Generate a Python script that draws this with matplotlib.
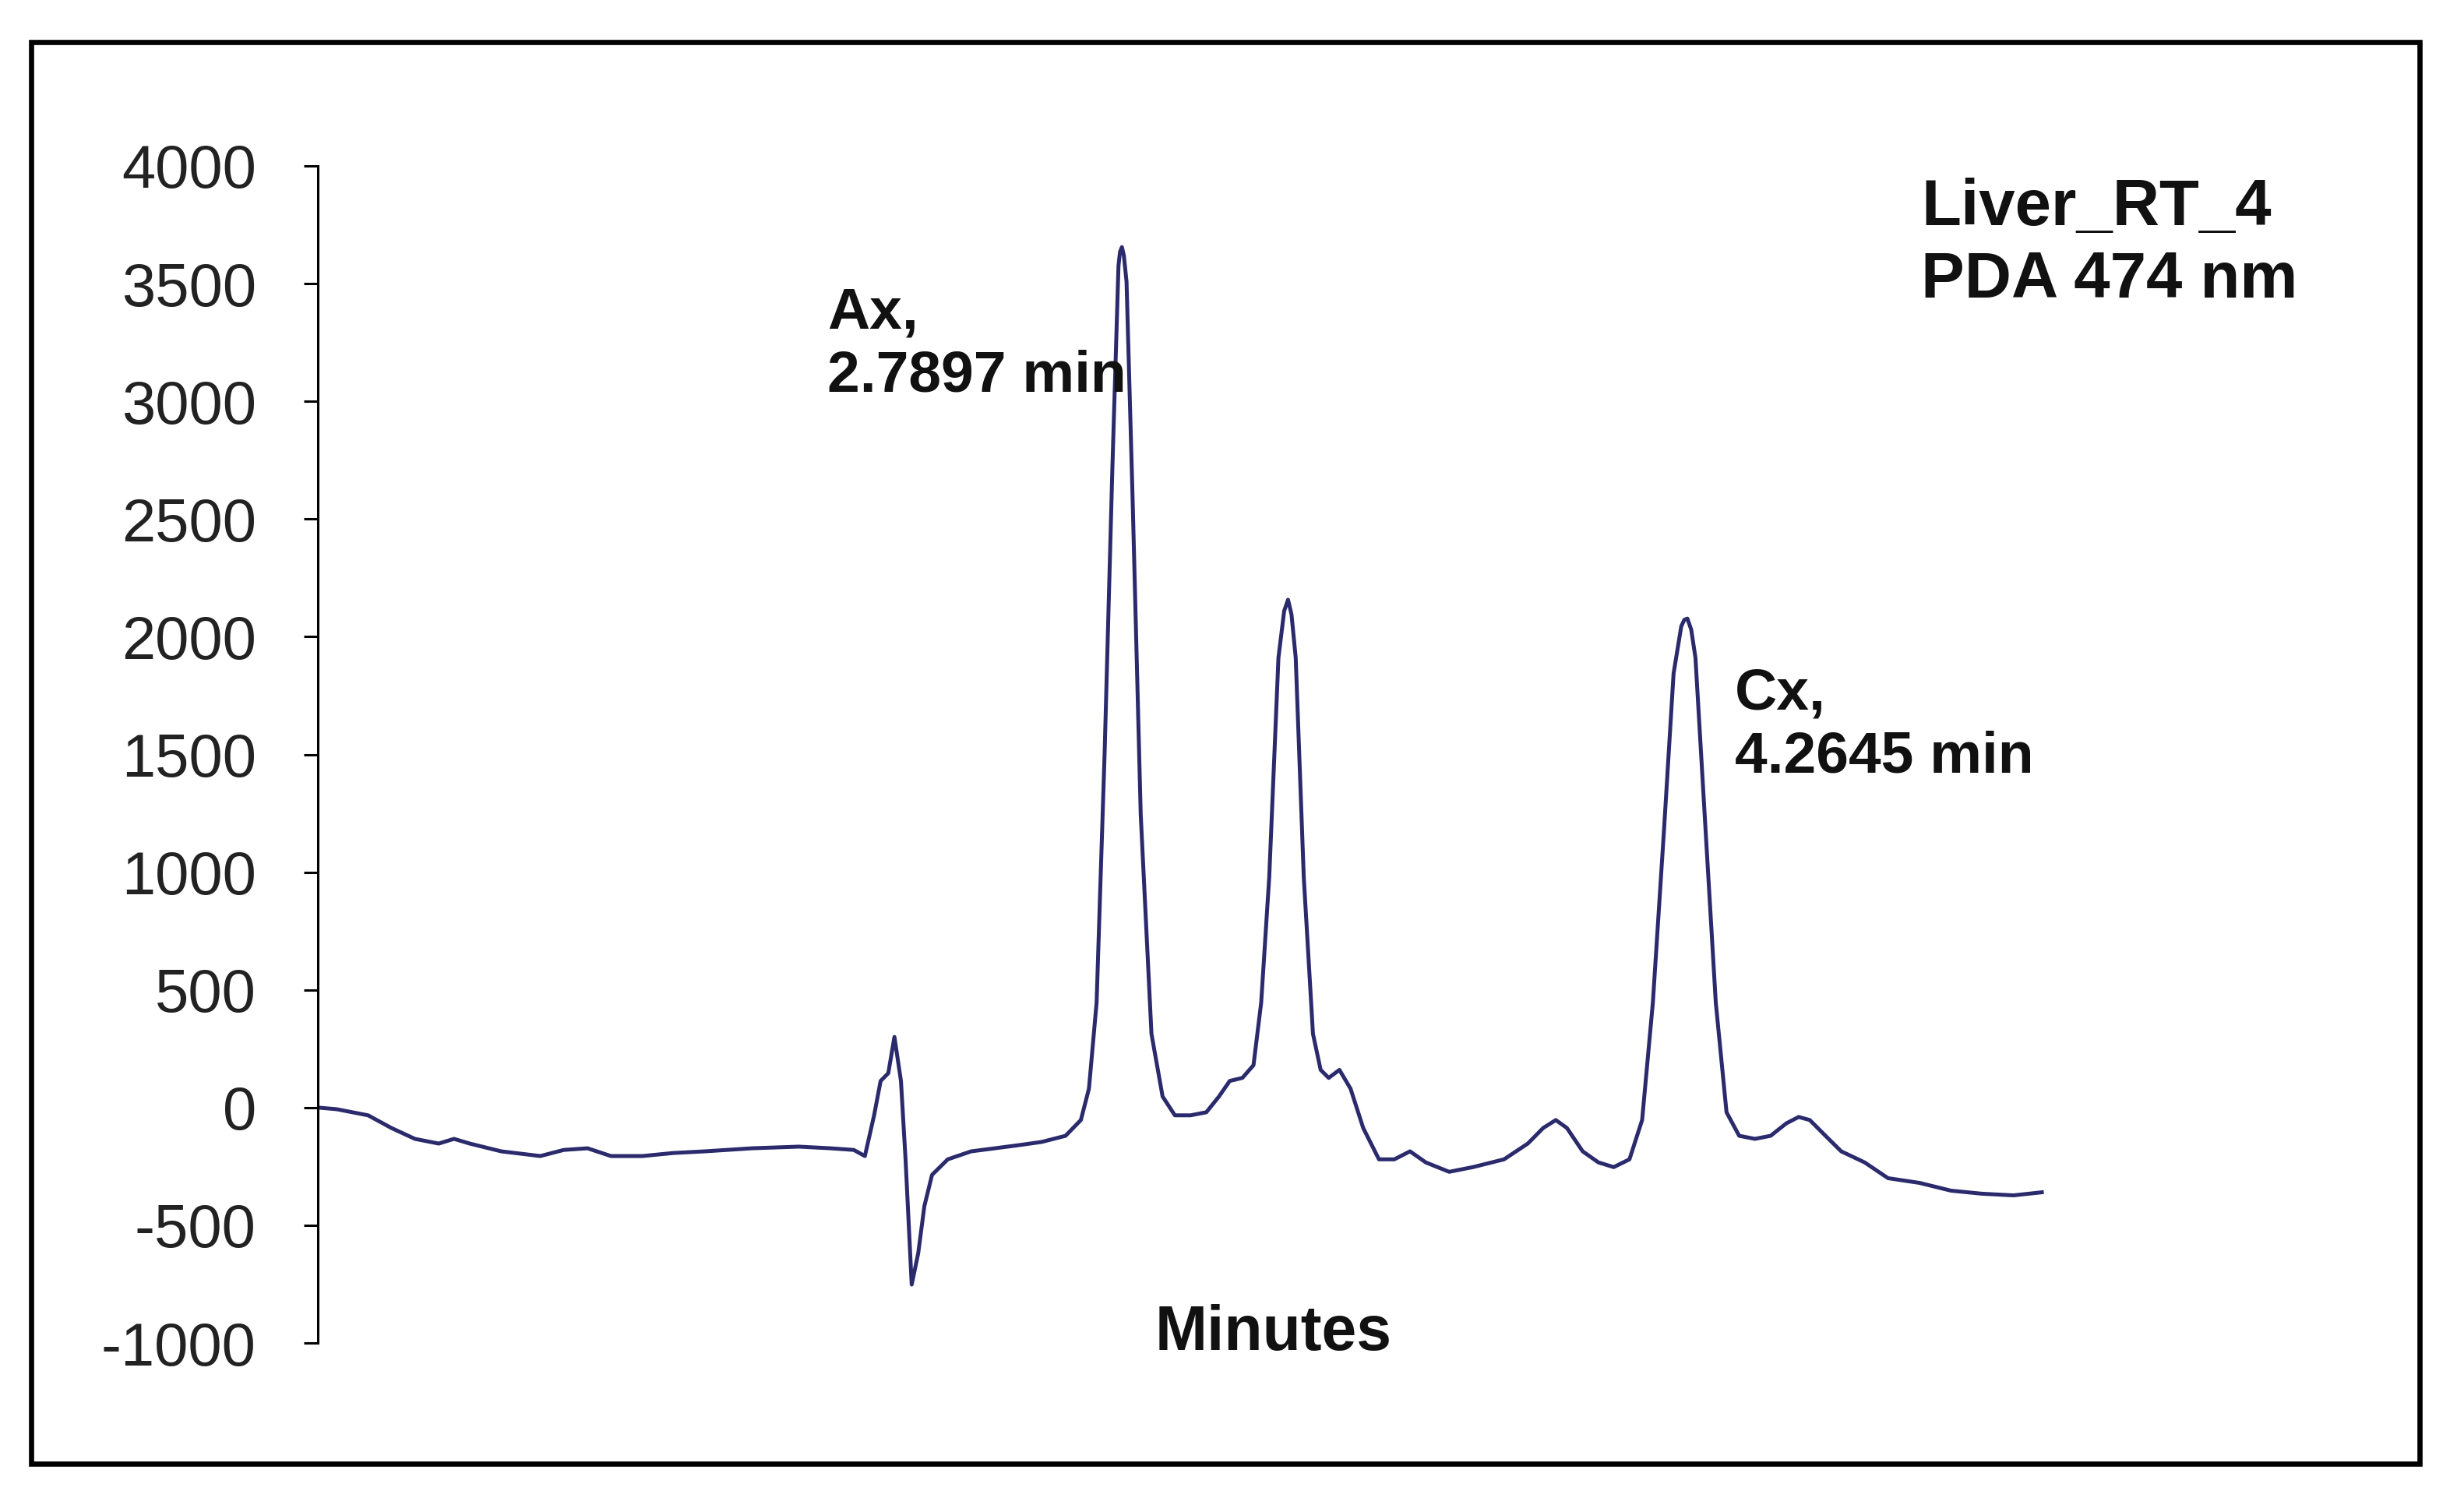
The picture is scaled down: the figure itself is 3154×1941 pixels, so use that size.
import matplotlib
matplotlib.use("Agg")
import matplotlib.pyplot as plt
from matplotlib.patches import Rectangle

plt.rcParams['font.family'] = ['Liberation Sans', 'DejaVu Sans']
plt.rcParams['axes.unicode_minus'] = False

# Retention time (minutes)
time_min = [0.694, 0.743, 0.825, 0.886, 0.947, 1.009, 1.049, 1.090, 1.172, 1.274,
            1.335, 1.397, 1.458, 1.540, 1.621, 1.703, 1.826, 1.948, 2.030, 2.091,
            2.120, 2.144, 2.161, 2.181, 2.197, 2.214, 2.226, 2.242, 2.259, 2.275,
            2.295, 2.336, 2.397, 2.459, 2.520, 2.581, 2.643, 2.683, 2.704, 2.724,
            2.745, 2.765, 2.781, 2.785, 2.790, 2.795, 2.802, 2.818, 2.839, 2.867,
            2.896, 2.928, 2.969, 3.010, 3.043, 3.071, 3.104, 3.133, 3.153, 3.174,
            3.198, 3.213, 3.223, 3.232, 3.243, 3.264, 3.288, 3.308, 3.329, 3.357,
            3.386, 3.419, 3.460, 3.500, 3.541, 3.582, 3.643, 3.705, 3.786, 3.848,
            3.888, 3.921, 3.950, 3.991, 4.032, 4.072, 4.113, 4.146, 4.174, 4.203,
            4.228, 4.248, 4.256, 4.264, 4.274, 4.285, 4.309, 4.338, 4.366, 4.399,
            4.440, 4.481, 4.522, 4.554, 4.583, 4.624, 4.665, 4.726, 4.787, 4.869,
            4.951, 5.032, 5.114, 5.188]

# Detector signal (PDA 474 nm)
signal = [0, -7, -33, -87, -133, -153, -133, -153, -186, -206,
          -180, -173, -206, -206, -193, -186, -173, -166, -173, -180,
          -206, -33, 113, 146, 300, 113, -220, -752, -619, -419,
          -286, -220, -186, -173, -160, -146, -120, -53, 80, 446,
          1511, 2710, 3575, 3635, 3655, 3620, 3509, 2577, 1245, 313,
          47, -33, -33, -20, 47, 113, 126, 180, 446, 979,
          1911, 2110, 2157, 2095, 1911, 979, 313, 160, 126, 160,
          80, -87, -220, -220, -186, -233, -273, -253, -220, -153,
          -87, -53, -87, -186, -233, -253, -220, -53, 446, 1178,
          1844, 2044, 2072, 2077, 2030, 1911, 1245, 446, -20, -120,
          -133, -120, -67, -40, -53, -120, -186, -233, -300, -320,
          -353, -366, -373, -360]

y_ticks = [-1000, -500, 0, 500, 1000, 1500, 2000, 2500, 3000, 3500, 4000]
y_tick_labels = ['-1000', '-500', '0', '500', '1000', '1500', '2000', '2500',
                 '3000', '3500', '4000']

W, H = 3154, 1941
DPI = 200
fig = plt.figure(figsize=(W / DPI, H / DPI), dpi=DPI)
fig.patch.set_facecolor('white')

# outer frame
fig.add_artist(Rectangle((40 / W, 1 - 1879 / H), (3106 - 40) / W, (1879 - 54) / H,
                         transform=fig.transFigure, fill=False, edgecolor='black',
                         linewidth=2.4))

ax_left = 408 / W
ax_bottom = 1 - 1724 / H
ax_top = 1 - 213 / H
ax_right = 2856 / W
ax = fig.add_axes([ax_left, ax_bottom, ax_right - ax_left, ax_top - ax_bottom])

ax.plot(time_min, signal, color='#2a2a6c', linewidth=1.8,
        solid_joinstyle='round')

ax.set_xlim(0.694, 5.665)
ax.set_ylim(-1000, 4000)
ax.set_yticks(y_ticks)
ax.set_yticklabels(y_tick_labels)
ax.tick_params(axis='y', direction='out', length=6.5, width=1.1, pad=22,
               labelsize=28, labelcolor='#222222', color='black')
ax.set_xticks([])
for s in ['top', 'right', 'bottom']:
    ax.spines[s].set_visible(False)
ax.spines['left'].set_linewidth(1.1)
ax.patch.set_alpha(0)

fig.text(1635 / W, 1 - 1712 / H, 'Minutes', ha='center', va='center',
         fontsize=29, fontweight='bold', color='#111111')

ax.text(2.022, 3490, 'Ax,\n2.7897 min', ha='left', va='top', fontsize=27,
        fontweight='bold', color='#111111', linespacing=1.22)
ax.text(4.387, 1870, 'Cx,\n4.2645 min', ha='left', va='top', fontsize=27,
        fontweight='bold', color='#111111', linespacing=1.22)
ax.text(4.873, 3950, 'Liver_RT_4\nPDA 474 nm', ha='left', va='top', fontsize=30,
        fontweight='bold', color='#111111', linespacing=1.25)

fig.savefig('out.png', dpi=DPI, facecolor='white')
